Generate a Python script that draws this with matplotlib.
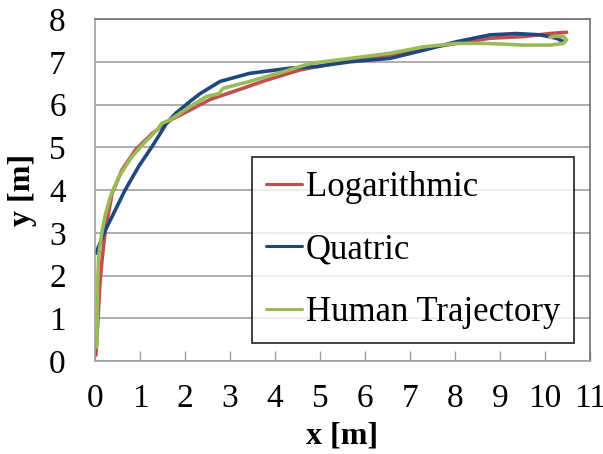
import matplotlib
matplotlib.use("Agg")
import matplotlib.pyplot as plt

# values (x [m], y [m])
log_x = [0.02, 0.07, 0.11, 0.16, 0.23, 0.38, 0.6, 0.9, 1.27, 1.7, 2.11, 2.56,
         3.07, 3.81, 4.56, 5.30, 6.04, 6.78, 7.30, 8.04, 8.78, 9.52, 10.11, 10.48]
log_y = [0.14, 1.04, 1.82, 2.4, 3.06, 3.92, 4.47, 4.94, 5.32, 5.65, 5.87, 6.12,
         6.30, 6.57, 6.81, 6.96, 7.08, 7.19, 7.31, 7.43, 7.55, 7.59, 7.66, 7.69]

quat_x = [0.02, 0.23, 0.45, 0.67, 0.97, 1.27, 1.45, 1.59, 1.8, 2.11, 2.33, 2.78,
          3.44, 4.33, 4.93, 5.67, 6.56, 7.30, 8.04, 8.78, 9.37, 9.89, 10.26, 10.41]
quat_y = [2.52, 3.06, 3.53, 4.0, 4.55, 5.02, 5.32, 5.56, 5.8, 6.07, 6.25, 6.54,
          6.73, 6.85, 6.89, 7.0, 7.08, 7.27, 7.47, 7.63, 7.66, 7.63, 7.55, 7.47]

human_x = [0.04, 0.05, 0.06, 0.08, 0.15, 0.22, 0.34, 0.53, 0.82, 1.12, 1.38, 1.48,
           1.67, 2.11, 2.48, 2.75, 2.85, 3.44, 4.19, 4.78, 5.67, 6.56, 7.30, 8.04,
           8.63, 9.15, 9.52, 10.11, 10.41, 10.48, 10.41, 10.22, 10.11]
human_y = [0.33, 1.0, 1.8, 2.44, 2.99, 3.38, 3.84, 4.31, 4.78, 5.13, 5.40, 5.56,
           5.64, 5.95, 6.19, 6.25, 6.38, 6.54, 6.77, 6.96, 7.08, 7.2, 7.35, 7.43,
           7.43, 7.41, 7.39, 7.39, 7.43, 7.51, 7.59, 7.6, 7.57]

x_ticks = list(range(0, 12))
y_ticks = list(range(0, 9))

plt.rcParams['font.family'] = ['Liberation Serif', 'DejaVu Serif']

fig = plt.figure(figsize=(6.03, 4.54), dpi=100)
ax = fig.add_axes([0.1575, 0.2048, 0.8209, 0.7533])

ax.plot(log_x, log_y, color='#C0504D', lw=2.6, label='Logarithmic', solid_capstyle='round')
ax.plot(quat_x, quat_y, color='#1F497D', lw=2.6, label='Quatric', solid_capstyle='round')
ax.plot(human_x, human_y, color='#9BBB59', lw=2.6, label='Human Trajectory', solid_capstyle='round')

ax.set_xlim(0, 11)
ax.set_ylim(0, 8)
ax.set_xticks(x_ticks)
ax.set_yticks(y_ticks)
ax.tick_params(axis='x', direction='in', length=7, width=1, color='#A0A0A0',
               labelsize=24, pad=16)
ax.tick_params(axis='y', length=0, labelsize=24, pad=21)
ax.grid(axis='y', color='#A0A0A0', lw=1.2)
ax.set_axisbelow(True)

for side in ['left', 'bottom']:
    ax.spines[side].set_color('#A0A0A0')
    ax.spines[side].set_linewidth(1.2)
for side in ['top', 'right']:
    ax.spines[side].set_color('#707070')
    ax.spines[side].set_linewidth(1.2)

ax.set_xlabel('x [m]', fontsize=23, fontweight='bold')
ax.set_ylabel('y [m]', fontsize=23, fontweight='bold')
ax.xaxis.label.set_va('center')
ax.yaxis.label.set_va('center')
ax.xaxis.set_label_coords(0.5, -0.219)
ax.yaxis.set_label_coords(-0.147, 0.5)

leg = ax.legend(loc='upper left', bbox_to_anchor=(0.418, 0.654),
                bbox_transform=fig.transFigure, borderaxespad=0,
                fontsize=25, frameon=True, fancybox=False, edgecolor='black',
                handlelength=1.05, handletextpad=0.1, labelspacing=0.85,
                borderpad=0.4)
leg.get_frame().set_linewidth(1.3)
for line in leg.get_lines():
    line.set_linewidth(2.2)

fig.savefig('out.png', dpi=100)
